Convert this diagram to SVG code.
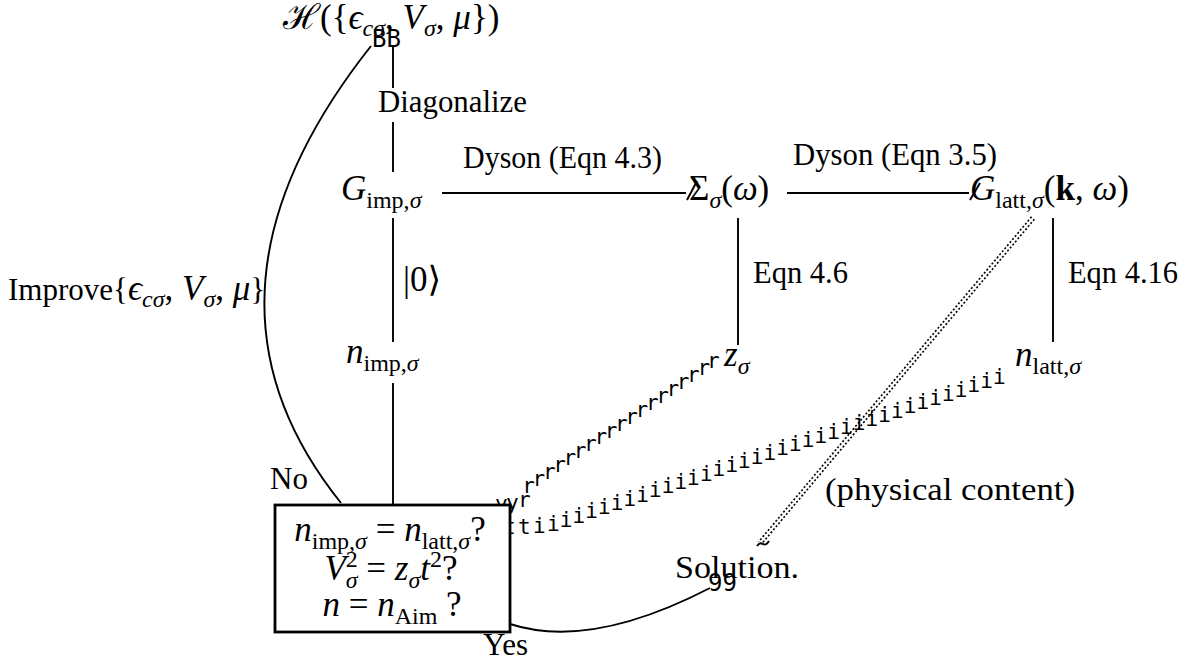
<svg xmlns="http://www.w3.org/2000/svg" width="1193" height="662" viewBox="0 0 1193 662">
<style>
.t{font-family:"Liberation Serif","DejaVu Serif",serif;font-size:31px;fill:#000}
.m{font-size:35px}
.i{font-style:italic}
.s{font-size:24px}
.mono{font-family:"DejaVu Sans Mono",monospace;font-size:21px;fill:#000}
.big{font-size:24px}
.ln{stroke:#000;stroke-width:1.9;fill:none}
.dot{stroke:#000;stroke-width:1.6;fill:none;stroke-dasharray:2 2}
.box{stroke:#000;stroke-width:2.8;fill:#fff}
</style>
<rect width="1193" height="662" fill="#fff"/>
<g id="connectors">
  <line class="ln" x1="393" y1="45" x2="393" y2="88"/>
  <line class="ln" x1="393" y1="122" x2="393" y2="172"/>
  <line class="ln" x1="393" y1="218" x2="393" y2="342"/>
  <line class="ln" x1="393" y1="383" x2="393" y2="506"/>
  <line class="ln" x1="738" y1="218" x2="738" y2="345"/>
  <line class="ln" x1="1053" y1="218" x2="1053" y2="342"/>
  <line class="ln" x1="442" y1="193" x2="686" y2="193"/>
  <line class="ln" x1="687" y1="200" x2="697" y2="181"/>
  <line class="ln" x1="787" y1="193" x2="969" y2="193"/>
  <line class="ln" x1="970" y1="200" x2="980" y2="183"/>
  <path class="ln" d="M341,503 Q174,295 371,46"/>
  <path class="ln" d="M510,624 Q590,650 710,588"/>
  <line class="dot" x1="1034.4" y1="219.2" x2="761.4" y2="544.2"/>
  <line class="dot" x1="1031.6" y1="216.8" x2="758.6" y2="541.8"/>
  <path class="ln" d="M757,546 q3,-4 6,-2 q3,2 6,-3" stroke-width="1"/>
  <text class="mono big" x="372" y="47">BB</text>
  <text class="mono big" x="708" y="591">99</text>
  <text class="mono" x="495 506 518 522.3 532.6 542.9 553.2 563.5 573.8 584.1 594.4 604.7 615 625.3 635.6 645.9 656.2 666.5 676.8 687.1 697.4 707" y="511 510 507 493.1 486.1 479.2 472.2 465.3 458.3 451.4 444.4 437.5 430.5 423.6 416.6 409.7 402.7 395.8 388.8 381.9 374.9 368">yyrrrrrrrrrrrrrrrrrrrr</text>
  <text class="mono" x="503 518 533 547 559.7 572.5 585.2 598 610.7 623.4 636.2 648.9 661.7 674.4 687.1 699.9 712.6 725.4 738.1 750.8 763.6 776.3 789.1 801.8 814.5 827.3 840 852.8 865.5 878.2 891 903.7 916.5 929.2 941.9 954.7 967.4 980.2 992.9" y="534 534 533 531 526.8 522.6 518.4 514.2 510 505.8 501.6 497.4 493.2 489 484.8 480.6 476.4 472.2 468 463.8 459.6 455.4 451.2 447 442.8 438.6 434.4 430.2 426 421.8 417.6 413.4 409.2 405 400.8 396.6 392.4 388.2 384">ttiiiiiiiiiiiiiiiiiiiiiiiiiiiiiiiiiiiii</text>
  <text class="t" x="378" y="112" textLength="149" lengthAdjust="spacingAndGlyphs">Diagonalize</text>
  <text class="t" x="463" y="168" textLength="199" lengthAdjust="spacingAndGlyphs">Dyson (Eqn 4.3)</text>
  <text class="t" x="793" y="165" textLength="204" lengthAdjust="spacingAndGlyphs">Dyson (Eqn 3.5)</text>
  <text class="t m" x="403" y="291">|0⟩</text>
  <text class="t" x="753" y="283" textLength="95" lengthAdjust="spacingAndGlyphs">Eqn 4.6</text>
  <text class="t" x="1068" y="283" textLength="110" lengthAdjust="spacingAndGlyphs">Eqn 4.16</text>
  <text class="t" x="8" y="300">Improve{<tspan class="i m">ϵ</tspan><tspan class="i s" dy="7">cσ</tspan><tspan class="m" dy="-7">, </tspan><tspan class="i m">V</tspan><tspan class="i s" dy="7">σ</tspan><tspan class="m" dy="-7">, </tspan><tspan class="i m">μ</tspan>}</text>
  <text class="t" x="270" y="489">No</text>
  <text class="t" x="483" y="655">Yes</text>
  <text class="t" x="825" y="500" textLength="250" lengthAdjust="spacingAndGlyphs">(physical content)</text>
</g>
<g id="node-H">
  <text class="t m" x="283" y="29">ℋ({<tspan class="i">ϵ</tspan><tspan class="i s" dy="7">cσ</tspan><tspan dy="-7">, </tspan><tspan class="i">V</tspan><tspan class="i s" dy="7">σ</tspan><tspan dy="-7">, </tspan><tspan class="i">μ</tspan>})</text>
</g>
<g id="node-Gimp">
  <text class="t m" x="341" y="200"><tspan class="i">G</tspan><tspan class="s" dy="8">imp,</tspan><tspan class="s i">σ</tspan></text>
</g>
<g id="node-Sigma">
  <text class="t m" x="689" y="200">Σ<tspan class="s i" dy="8">σ</tspan><tspan dy="-8">(</tspan><tspan class="i">ω</tspan>)</text>
</g>
<g id="node-Glatt">
  <text class="t m" x="970" y="200"><tspan class="i">G</tspan><tspan class="s" dy="8">latt,</tspan><tspan class="s i">σ</tspan><tspan dy="-8">(</tspan><tspan font-weight="bold">k</tspan>, <tspan class="i">ω</tspan>)</text>
</g>
<g id="node-nimp">
  <text class="t m" x="346" y="363"><tspan class="i">n</tspan><tspan class="s" dy="8">imp,</tspan><tspan class="s i">σ</tspan></text>
</g>
<g id="node-z">
  <text class="t m" x="724" y="366"><tspan class="i">z</tspan><tspan class="s i" dy="8">σ</tspan></text>
</g>
<g id="node-nlatt">
  <text class="t m" x="1015" y="366"><tspan class="i">n</tspan><tspan class="s" dy="8">latt,</tspan><tspan class="s i">σ</tspan></text>
</g>
<g id="node-check">
  <rect class="box" x="275" y="505" width="235" height="127"/>
  <text class="t m" x="390" y="541" text-anchor="middle"><tspan class="i">n</tspan><tspan class="s" dy="8">imp,</tspan><tspan class="s i">σ</tspan><tspan dy="-8"> = </tspan><tspan class="i">n</tspan><tspan class="s" dy="8">latt,</tspan><tspan class="s i">σ</tspan><tspan dy="-8">?</tspan></text>
  <text class="t m" x="391" y="580" text-anchor="middle"><tspan class="i">V</tspan><tspan class="s" dy="-13">2</tspan><tspan class="i s" dx="-12" dy="21">σ</tspan><tspan dy="-8"> = </tspan><tspan class="i">z</tspan><tspan class="i s" dy="8">σ</tspan><tspan class="i" dy="-8">t</tspan><tspan class="s" dy="-13">2</tspan><tspan dy="13">?</tspan></text>
  <text class="t m" x="392" y="616" text-anchor="middle"><tspan class="i">n</tspan> = <tspan class="i">n</tspan><tspan class="s" dy="8">Aim</tspan><tspan dy="-8"> ?</tspan></text>
</g>
<g id="node-solution">
  <text class="t" x="675" y="578" textLength="124" lengthAdjust="spacingAndGlyphs">Solution.</text>
</g>
</svg>
